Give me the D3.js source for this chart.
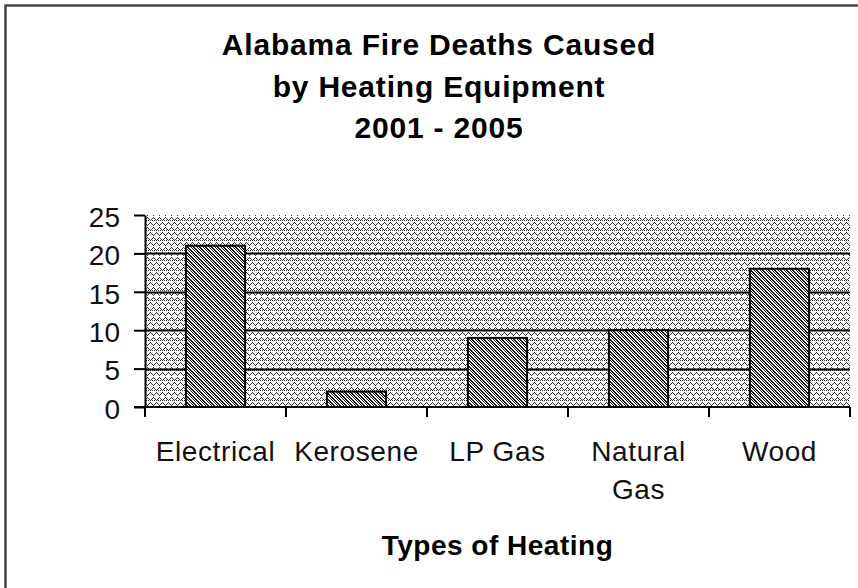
<!DOCTYPE html>
<html>
<head>
<meta charset="utf-8">
<script src="https://cdn.jsdelivr.net/npm/d3@7/dist/d3.min.js"></script>
<style>
  body { margin: 0; background: #fff; }
  svg { display: block; }
</style>
</head>
<body>
<svg id="chart" width="858" height="588"></svg>
<script>
const categories = ['Electrical', 'Kerosene', 'LP Gas', 'Natural Gas', 'Wood'];
const deaths = [21, 2, 9, 10, 18];
const yTicks = [0, 5, 10, 15, 20, 25];
const titleLines = ['Alabama Fire Deaths Caused', 'by Heating Equipment', '2001 - 2005'];
const xTitle = 'Types of Heating';

const width = 858, height = 588;
const margin = { left: 145, right: 8, top: 215, bottom: 181 };
const font = "'Liberation Sans', Arial, sans-serif";

const svg = d3.select('#chart');

// bitmap-like fill patterns
const defs = svg.append('defs');
function pixelPattern(id, rows, color) {
    const p = defs.append('pattern')
        .attr('id', id)
        .attr('patternUnits', 'userSpaceOnUse')
        .attr('width', rows[0].length)
        .attr('height', rows.length);
    p.append('rect').attr('width', rows[0].length).attr('height', rows.length).attr('fill', '#fff');
    rows.forEach((row, y) => {
        row.split('').forEach((c, x) => {
            if (c === '1') p.append('rect').attr('x', x).attr('y', y).attr('width', 1).attr('height', 1).attr('fill', color);
        });
    });
}
pixelPattern('bgFill', [
    '101010101010',
    '000000000000',
    '100000100000',
    '010001010001',
    '001010001010',
    '000100000100',
    '000000000000',
    '000100000100',
    '001010001010',
    '010001010001'
], '#333');
pixelPattern('barFill', [
    '110010',
    '011001',
    '101100',
    '010110',
    '001011',
    '100101'
], '#1a1a1a');

const x = d3.scaleBand()
    .domain(categories)
    .range([margin.left, width - margin.right])
    .paddingInner(0.58)
    .paddingOuter(0.29);

const y = d3.scaleLinear()
    .domain([0, 25])
    .range([height - margin.bottom, margin.top]);

// outer frame (only top and left edges are visible)
svg.append('path')
    .attr('d', `M5.5,${height} L5.5,5.5 L${width},5.5`)
    .attr('fill', 'none')
    .attr('stroke', '#444')
    .attr('stroke-width', 2.5);

// plot area
svg.append('rect')
    .attr('x', margin.left)
    .attr('y', y(25))
    .attr('width', width - margin.right - margin.left)
    .attr('height', y(0) - y(25))
    .attr('fill', 'url(#bgFill)')
    .attr('shape-rendering', 'crispEdges');

// gridlines
svg.append('g')
    .selectAll('line')
    .data(yTicks.filter(d => d > 0 && d < 25))
    .join('line')
    .attr('x1', margin.left)
    .attr('x2', width - margin.right)
    .attr('y1', d => Math.round(y(d)) + 0.5)
    .attr('y2', d => Math.round(y(d)) + 0.5)
    .attr('stroke', '#000')
    .attr('stroke-width', 2);

// bars
svg.append('g')
    .selectAll('rect')
    .data(deaths)
    .join('rect')
    .attr('x', (d, i) => x(categories[i]))
    .attr('y', d => y(d))
    .attr('width', x.bandwidth())
    .attr('height', d => y(0) - y(d))
    .attr('fill', 'url(#barFill)')
    .attr('stroke', '#000')
    .attr('stroke-width', 2);

// y axis
const yAxis = svg.append('g')
    .attr('transform', `translate(${margin.left},0)`)
    .call(d3.axisLeft(y).tickValues(yTicks).tickSize(11).tickPadding(14).tickSizeOuter(0));
yAxis.select('.domain').attr('stroke-width', 2);
yAxis.selectAll('.tick line').attr('stroke-width', 2);
yAxis.selectAll('text')
    .attr('font-family', font)
    .attr('font-size', 28)
    .attr('fill', '#111')
    .attr('dy', '0.4em');

// x axis: ticks between categories
const bounds = d3.range(categories.length + 1).map(i => margin.left + i * x.step());
const xAxis = svg.append('g')
    .attr('transform', `translate(0,${y(0)})`);
xAxis.append('line')
    .attr('x1', margin.left - 11)
    .attr('x2', width - margin.right)
    .attr('stroke', '#000')
    .attr('stroke-width', 2);
xAxis.selectAll('.sep')
    .data(bounds)
    .join('line')
    .attr('class', 'sep')
    .attr('x1', d => d).attr('x2', d => d)
    .attr('y1', 0).attr('y2', 10)
    .attr('stroke', '#000')
    .attr('stroke-width', 2);

// category labels, wrapped when wider than a band
xAxis.selectAll('.lbl')
    .data(categories)
    .join('text')
    .attr('class', 'lbl')
    .attr('x', d => x(d) + x.bandwidth() / 2)
    .attr('y', 54)
    .attr('text-anchor', 'middle')
    .attr('font-family', font)
    .attr('font-size', 28)
    .attr('letter-spacing', 0.6)
    .attr('fill', '#111')
    .each(function (d) {
        const t = d3.select(this);
        t.text(d);
        if (this.getComputedTextLength() > x.step() - 4) {
            t.text(null);
            d.split(' ').forEach((w, i) => {
                t.append('tspan')
                    .attr('x', x(d) + x.bandwidth() / 2)
                    .attr('dy', i === 0 ? 0 : 38)
                    .text(w);
            });
        }
    });

// axis title
svg.append('text')
    .attr('x', (margin.left + width - margin.right) / 2)
    .attr('y', 555)
    .attr('text-anchor', 'middle')
    .attr('font-family', font)
    .attr('font-size', 28)
    .attr('font-weight', 'bold')
    .attr('letter-spacing', 0.5)
    .text(xTitle);

// chart title
svg.append('g')
    .selectAll('text')
    .data(titleLines)
    .join('text')
    .attr('x', 439)
    .attr('y', (d, i) => 55 + i * 41.5)
    .attr('text-anchor', 'middle')
    .attr('font-family', font)
    .attr('font-size', 30)
    .attr('font-weight', 'bold')
    .attr('letter-spacing', 0.8)
    .text(d => d);
</script>
</body>
</html>
